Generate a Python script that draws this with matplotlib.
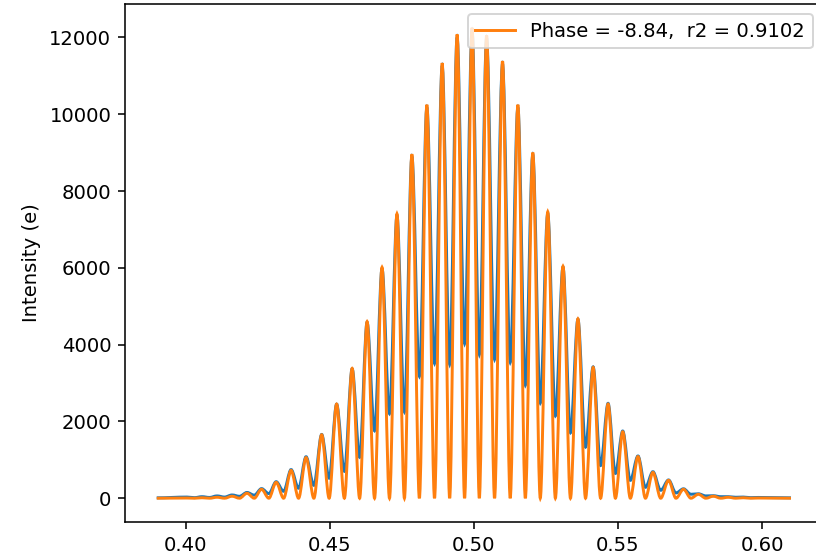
import matplotlib
matplotlib.use("Agg")
import matplotlib.pyplot as plt
from matplotlib.path import Path
from matplotlib.patches import PathPatch
from matplotlib.lines import Line2D

# Wavelength-like axis span of the scan
x_start = 0.39
x_end = 0.61

# Fringe maxima positions
peak_x = [0.40048, 0.40570, 0.41092,
          0.41613, 0.42131, 0.42636, 0.43143, 0.43661, 0.44180, 0.44722,
          0.45240, 0.45779, 0.46297, 0.46815, 0.47333, 0.47851, 0.48370,
          0.48902, 0.49420, 0.49938, 0.50442, 0.50995, 0.51527, 0.52045,
          0.52563, 0.53092, 0.53610, 0.54138, 0.54656, 0.55164, 0.55693,
          0.56211, 0.56753, 0.57271, 0.57789, 0.58307,
          0.58825, 0.59343, 0.59862]

# Fitted fringe model: peak heights (minima are zero)
fit_peaks = [5, 12, 25,
             52, 129, 232, 413, 723, 1058, 1652, 2452, 3380, 4600, 6013,
             7406, 8955, 10245, 11329, 12077, 12250, 12050, 11380, 10245,
             9000, 7458, 6039, 4671, 3406, 2452, 1729, 1084, 671, 465, 232,
             103, 52,
             25, 12, 5]

# Measured intensity: fringe maxima and minima
data_peaks = [30, 40, 60,
              85, 150, 250, 430, 745, 1080, 1660, 2450, 3370, 4580, 5980,
              7360, 8900, 10180, 11260, 12000, 12170, 11980, 11310, 10180,
              8950, 7420, 6020, 4660, 3420, 2470, 1750, 1100, 690, 475, 245,
              115, 65,
              40, 30, 20]

data_troughs = [15, 20, 30,
                50, 80, 120, 180, 260, 335, 520, 700, 1066, 1755, 2200,
                2245, 3174, 3510, 3484, 4026, 3742, 3613, 3535, 2942, 2477,
                2142, 1703, 1330, 851, 645, 465, 284, 206, 137, 103, 60,
                40, 25, 15]

data_ends = [10, 10]
legend_label = "Phase = -8.84,  r2 = 0.9102"
y_label = "Intensity (e)"


def fringe_path(peaks, troughs, ends):
    """Smooth path through alternating minima/maxima using cubic Bezier segments."""
    pts = [(x_start, ends[0])]
    for i, (px, py) in enumerate(zip(peak_x, peaks)):
        pts.append((px, py))
        if i < len(troughs):
            tx = 0.5 * (peak_x[i] + peak_x[i + 1])
            pts.append((tx, troughs[i]))
    pts.append((x_end, ends[1]))

    verts = [pts[0]]
    codes = [Path.MOVETO]
    for (x0, y0), (x1, y1) in zip(pts[:-1], pts[1:]):
        dx = x1 - x0
        verts += [(x0 + dx / 3.0, y0), (x0 + 2.0 * dx / 3.0, y1), (x1, y1)]
        codes += [Path.CURVE4] * 3
    return Path(verts, codes)


DPI = 141
fig = plt.figure(figsize=(816 / DPI, 557 / DPI), dpi=DPI)
ax = fig.add_axes([0.1532, 0.0628, 0.855, 0.930])

data_path = fringe_path(data_peaks, data_troughs, data_ends)
fit_path = fringe_path(fit_peaks, [0] * len(data_troughs), [0, 0])

ax.add_patch(PathPatch(data_path, fill=False, edgecolor="C0", lw=1.5,
                       transform=ax.transData))
ax.add_patch(PathPatch(fit_path, fill=False, edgecolor="C1", lw=1.5,
                       transform=ax.transData))

span = x_end - x_start
ax.set_xlim(x_start - 0.05 * span, x_end + 0.05 * span)
ax.set_ylim(-620, 12870)
ax.set_xticks([0.40, 0.45, 0.50, 0.55, 0.60])
ax.set_yticks([0, 2000, 4000, 6000, 8000, 10000, 12000])
ax.set_ylabel(y_label)

handle = Line2D([], [], color="C1", lw=1.5)
ax.legend([handle], [legend_label], loc="upper right")

fig.savefig("out.png", dpi=DPI)
